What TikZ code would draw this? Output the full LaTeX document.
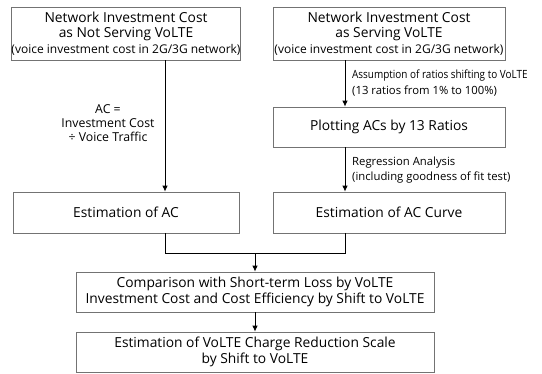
\documentclass[tikz,border=0pt]{standalone}
\usepackage{fontspec}
\setmainfont{Open Sans}
\usetikzlibrary{arrows.meta}
\begin{document}
\begin{tikzpicture}[x=1pt,y=-1pt,
  box/.style={draw=black!55,line width=0.8pt,rectangle,inner sep=0pt,align=center,font=\fontsize{13.8}{15.5}\selectfont},
  small/.style={},
  arr/.style={-{Latex[length=6pt,width=5.5pt]},line width=0.8pt},
  ln/.style={line width=0.8pt},
  lbl/.style={align=center,font=\fontsize{12.3}{14}\selectfont,inner sep=0pt},
  lblr/.style={align=left,anchor=west,font=\fontsize{11.3}{15.5}\selectfont,inner sep=0pt}]
\useasboundingbox (0,0) rectangle (542,373);
\node[box,minimum width=226pt,minimum height=53pt] (b1) at (126,33.5)
  {Network Investment Cost\\as Not Serving VoLTE\\{\fontsize{12}{15.5}\selectfont(voice investment cost in 2G/3G network)}};
\node[box,minimum width=232pt,minimum height=53pt] (b2) at (389,33.5)
  {Network Investment Cost\\as Serving VoLTE\\{\fontsize{12}{15.5}\selectfont(voice investment cost in 2G/3G network)}};
\node[box,minimum width=232pt,minimum height=40pt] (p) at (389,127) {Plotting ACs by 13 Ratios};
\node[box,minimum width=226pt,minimum height=41pt] (eac) at (126,212.5) {Estimation of AC};
\node[box,minimum width=232pt,minimum height=41pt] (eacc) at (389,212.5) {Estimation of AC Curve};
\node[box,minimum width=358pt,minimum height=40pt] (cmp) at (255,292)
  {Comparison with Short-term Loss by VoLTE\\Investment Cost and Cost Efficiency by Shift to VoLTE};
\node[box,minimum width=358pt,minimum height=40pt] (fin) at (255,352)
  {Estimation of VoLTE Charge Reduction Scale\\by Shift to VoLTE};
\coordinate (xl) at (165,0);
\coordinate (xr) at (345,0);
\coordinate (jl) at (165,253);
\coordinate (jr) at (345,253);
\coordinate (jm) at (255,253);
\draw[arr] (b1.south -| xl) -- (eac.north -| xl);
\draw[arr] (b2.south -| xr) -- (p.north -| xr);
\draw[arr] (p.south -| xr) -- (eacc.north -| xr);
\draw[ln] (eac.south -| xl) -- (jl) -- (jr) -- (eacc.south -| xr);
\draw[arr] (jm) -- (cmp.north);
\draw[arr] (cmp.south) -- (fin.north);
\node[lbl] (l1) at (108,123) {AC =\\Investment Cost\\÷ Voice Traffic};
\node[lblr] (l2) at (352,83) {\scalebox{0.88}[1]{Assumption of ratios shifting to VoLTE}\\(13 ratios from 1\% to 100\%)};
\node[lblr] (l3) at (352,170) {Regression Analysis\\(including goodness of fit test)};
\end{tikzpicture}
\end{document}
